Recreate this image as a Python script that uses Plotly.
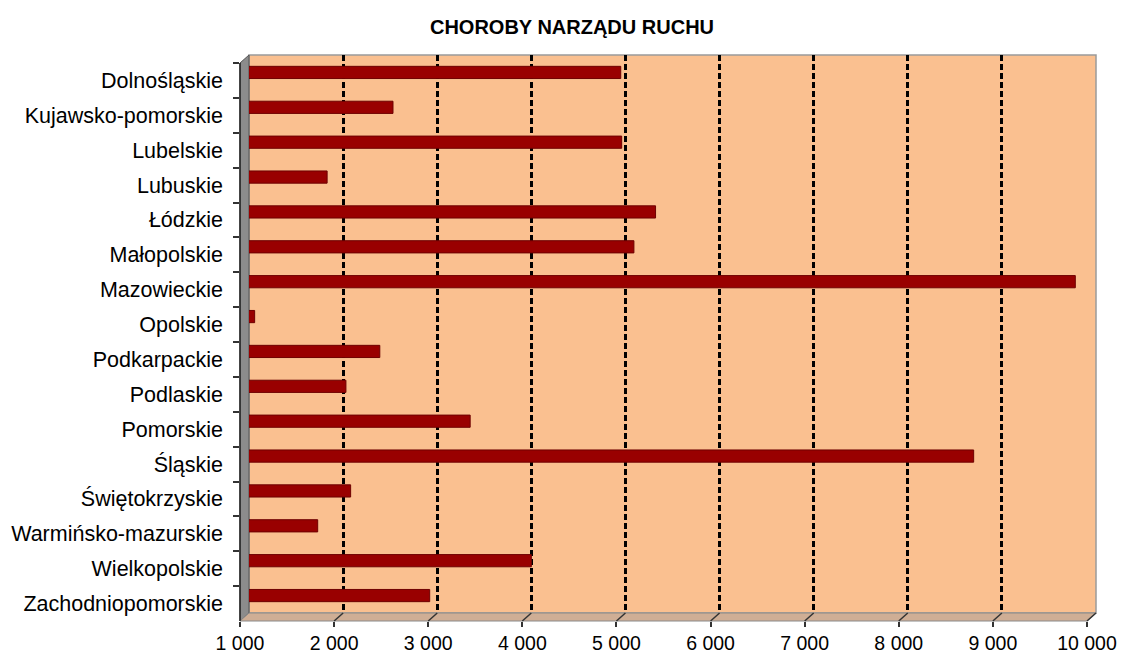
import plotly.graph_objects as go

categories = ["Dolnośląskie", "Kujawsko-pomorskie", "Lubelskie", "Lubuskie", "Łódzkie",
              "Małopolskie", "Mazowieckie", "Opolskie", "Podkarpackie", "Podlaskie",
              "Pomorskie", "Śląskie", "Świętokrzyskie", "Warmińsko-mazurskie",
              "Wielkopolskie", "Zachodniopomorskie"]
values = [4950, 2530, 4960, 1830, 5320, 5090, 9780, 1060, 2390, 2030,
          3350, 8700, 2080, 1730, 4000, 2920]
tick_values = [1000, 2000, 3000, 4000, 5000, 6000, 7000, 8000, 9000, 10000]
tick_labels = ["1 000", "2 000", "3 000", "4 000", "5 000", "6 000", "7 000", "8 000", "9 000", "10 000"]
title_text = "CHOROBY NARZĄDU RUCHU"

W, H = 1122, 655
FONT = "Liberation Sans, Arial, sans-serif"

# back wall (pixels) and 3D depth offset
BX0, BX1, BY0, BY1 = 249, 1096, 55, 613
DX, DY = -9, 8
FX0, FX1, FY0, FY1 = BX0 + DX, BX1 + DX, BY0 + DY, BY1 + DY


def px(x):
    return x / W


def py(y):
    return 1 - y / H


xmin, xmax = tick_values[0], tick_values[-1]

fig = go.Figure()

fig.add_trace(go.Bar(
    x=values, y=categories, orientation="h",
    marker=dict(color="#990000", line=dict(color="#6e0000", width=1)),
    width=0.35, xaxis="x", yaxis="y", showlegend=False, hoverinfo="x+y",
))

# invisible trace to carry the front-plane axes (labels & ticks)
fig.add_trace(go.Scatter(
    x=values, y=categories, mode="markers", marker=dict(opacity=0),
    xaxis="x2", yaxis="y2", showlegend=False, hoverinfo="skip",
))

shapes = []
# back wall
shapes.append(dict(type="rect", xref="paper", yref="paper",
                   x0=px(BX0), x1=px(BX1), y0=py(BY1), y1=py(BY0),
                   fillcolor="#FAC090", line=dict(color="#9a9a9a", width=1.5), layer="below"))
# left wall
shapes.append(dict(type="path", xref="paper", yref="paper",
                   path=f"M {px(FX0)},{py(FY0)} L {px(BX0)},{py(BY0)} L {px(BX0)},{py(BY1)} L {px(FX0)},{py(FY1)} Z",
                   fillcolor="#8c8c8c", line=dict(color="#555555", width=1), layer="below"))
# floor
shapes.append(dict(type="path", xref="paper", yref="paper",
                   path=f"M {px(FX0)},{py(FY1)} L {px(BX0)},{py(BY1)} L {px(BX1)},{py(BY1)} L {px(FX1)},{py(FY1)} Z",
                   fillcolor="#cfae95", line=dict(color="#8a8a8a", width=1), layer="below"))
# grid lines continuing across the floor
for v in tick_values[1:]:
    t = (v - xmin) / (xmax - xmin)
    xb = BX0 + t * (BX1 - BX0)
    xf = FX0 + t * (FX1 - FX0)
    shapes.append(dict(type="line", xref="paper", yref="paper",
                       x0=px(xb), y0=py(BY1), x1=px(xf), y1=py(FY1),
                       line=dict(color="#333333", width=1.5), layer="above"))
# front left edge
shapes.append(dict(type="line", xref="paper", yref="paper",
                   x0=px(FX0), y0=py(FY0), x1=px(FX0), y1=py(FY1),
                   line=dict(color="#222222", width=1.5), layer="above"))

fig.update_layout(
    width=W, height=H,
    autosize=False,
    margin=dict(l=0, r=0, t=0, b=0, pad=0),
    paper_bgcolor="white",
    plot_bgcolor="rgba(0,0,0,0)",
    font=dict(family=FONT, size=19, color="black"),
    title=dict(text=f"<b>{title_text}</b>", x=px(572), xref="paper", xanchor="center",
               y=py(27), yref="paper", yanchor="middle",
               font=dict(family=FONT, size=20, color="black")),
    bargap=0.65,
    shapes=shapes,
    xaxis=dict(domain=[px(BX0), px(BX1)], anchor="y", range=[xmin, xmax], automargin=False,
               tickvals=tick_values, showticklabels=False, ticks="",
               showgrid=True, gridcolor="black", gridwidth=2.5, griddash="6px,3px",
               zeroline=False, showline=False),
    yaxis=dict(domain=[py(BY1), py(BY0)], anchor="x", type="category", automargin=False,
               categoryorder="array", categoryarray=categories,
               range=[len(categories) - 0.5, -0.5],
               showticklabels=False, ticks="", showgrid=False, zeroline=False, showline=False),
    xaxis2=dict(domain=[px(FX0), px(FX1)], anchor="y2", range=[xmin, xmax], automargin=False,
                tickvals=tick_values, ticktext=tick_labels, ticks="outside", ticklen=5,
                tickcolor="#333333", tickwidth=1.5,
                showgrid=False, zeroline=False, showline=False,
                tickfont=dict(family=FONT, size=19.5, color="black")),
    yaxis2=dict(domain=[py(FY1), py(FY0)], anchor="x2", type="category", automargin=False,
                categoryorder="array", categoryarray=categories,
                range=[len(categories) - 0.5, -0.5],
                tickson="boundaries", ticks="outside", ticklen=6, tickcolor="#333333", tickwidth=1.5,
                ticklabelstandoff=16,
                showgrid=False, zeroline=False, showline=False,
                tickfont=dict(family=FONT, size=21.5, color="black")),
)

fig.write_html("out.html", config={"displayModeBar": False},
               post_script="document.body.style.margin='0';document.body.style.overflow='hidden';")
